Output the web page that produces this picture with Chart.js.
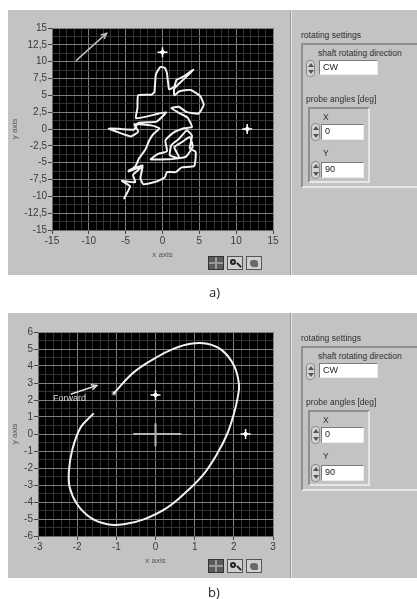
<!DOCTYPE html>
<html>
<head>
<meta charset="utf-8">
<script src="https://cdn.jsdelivr.net/npm/chart.js@4.4.0/dist/chart.umd.min.js"></script>
<style>
  body { margin:0; background:#fff; width:417px; height:599px; position:relative; overflow:hidden;
         font-family:"Liberation Sans", Arial, sans-serif; }
  .panel { position:absolute; left:8px; width:409px; height:265px; background:#c3c3c3; overflow:hidden; }
  .panel canvas { position:absolute; left:0; top:0; }
  .sep { position:absolute; left:282px; top:0; width:1px; height:100%; background:#9a9a9a; border-right:1px solid #e4e4e4; }
  .txt { position:absolute; font-size:8.5px; color:#2e2e2e; white-space:nowrap; line-height:10px; }
  .box { position:absolute; border:2px solid; border-color:#8e8e8e #e6e6e6 #e6e6e6 #8e8e8e; }
  .field { position:absolute; background:#fff; border:1px solid; border-color:#7c7c7c #eee #eee #7c7c7c;
           font-size:9px; color:#222; line-height:13px; padding-left:3px; box-sizing:border-box; }
  .spin { position:absolute; width:9px; border:1px solid #8a8a8a; border-radius:4px; background:#d4d4d4; box-sizing:border-box; }
  .spin:before, .spin:after { content:""; position:absolute; left:1px; border-left:3px solid transparent; border-right:3px solid transparent; }
  .spin:before { top:2px; border-bottom:4px solid #555; }
  .spin:after { bottom:2px; border-top:4px solid #555; }
  .icon { position:absolute; top:246px; width:16px; height:14px; box-sizing:border-box; }
  .i1 { left:200px; background:#5a5a5a; border:1px solid #333; }
  .i1:before { content:""; position:absolute; left:6px; top:0; width:2px; height:12px; background:#9a9a9a; }
  .i1:after { content:""; position:absolute; left:0; top:5px; width:14px; height:2px; background:#9a9a9a; }
  .i2 { left:219px; background:#cfcfcf; border:1px solid #555; }
  .i2:before { content:""; position:absolute; left:2px; top:2px; width:6px; height:6px; border:2px solid #222; border-radius:50%; box-sizing:border-box; }
  .i2:after { content:""; position:absolute; left:8px; top:7px; width:6px; height:2px; background:#222; transform:rotate(45deg); }
  .i3 { left:238px; background:#cfcfcf; border:1px solid #555; }
  .i3:before { content:""; position:absolute; left:3px; top:3px; width:8px; height:7px; background:#6a6a6a; border-radius:3px 3px 1px 4px; }
  .cap { position:absolute; font-family:"Open Sans", sans-serif; font-size:13px; color:#222; }
</style>
</head>
<body>
<script>
// panel a) shaft trajectory
const trailX = [-5.2,-4.4,-5.5,-3.7,-4.0,-2.8,-4.6,-2.7,-3.0,-2.6,-0.8,0.3,0.6,1.8,2.6,4.3,4.5,3.7,4.0,3.3,
  2.2,1.2,1.0,2.3,1.6,2.7,3.7,4.1,3.2,1.8,0.8,-1.6,-0.6,0.6,0.4,1.4,2.9,4.0,3.4,2.4,
  1.2,2.2,3.3,4.9,5.6,5.1,3.8,2.3,1.6,1.6,2.8,4.2,2.7,1.9,1.6,0.9,0.6,0.3,-0.3,-0.9,
  -1.1,-1.5,-3.3,-3.4,-3.6,-1.2,0.5,-0.8,-3.3,-3.9,-7.3,-4.3,-3.3,-3.8,-1.4,-0.4,-1.2,-1.8,-2.3,-3.2,
  -3.7,-4.6];
const trailY = [-10.3,-8.5,-7.7,-7.9,-6.8,-5.6,-6.3,-5.4,-7.3,-8.2,-7.8,-7.2,-6.4,-6.4,-5.7,-5.5,-3.4,-2.9,-1.0,-0.2,
  -1.5,-2.4,-3.9,-4.3,-2.7,-1.9,-1.2,-2.6,-4.1,-4.4,-4.5,-4.5,-3.7,-3.3,-1.7,-0.6,0.1,0.3,1.7,2.3,
  3.1,3.3,2.5,2.3,3.6,4.9,5.8,5.6,5.0,6.0,7.3,8.8,7.7,7.3,6.3,5.9,8.3,9.1,9.2,8.1,
  5.5,5.1,5.0,3.1,1.6,2.1,2.5,1.1,0.9,-0.1,0.1,-1.1,-0.4,0.7,0.5,0.1,-0.7,-1.7,-3.0,-4.4,
  -5.6,-6.2];
const probeAX = [0, 11.5];
const probeAY = [11.4, 0];
const arrowAX = [-11.7, -7.6];
const arrowAY = [10.2, 14.2];
const ticksA = { xMin:-15, xMax:15, xStep:1, xMajor:5, yMin:-15, yMax:15, yStep:1.25, yMajor:2.5 };

// panel b) orbit
const orbitX = [-1.06,-0.55,0.04,0.47,0.89,1.32,1.70,2.00,2.13,2.10,2.00,1.83,1.57,1.23,0.81,0.30,
  -0.30,-0.81,-1.23,-1.66,-2.00,-2.19,-2.21,-2.13,-1.91,-1.59];
const orbitY = [2.40,3.64,4.53,5.02,5.31,5.31,4.92,4.04,2.95,2.17,1.18,0.00,-1.18,-2.36,-3.35,-4.33,
  -5.02,-5.31,-5.31,-4.92,-4.13,-3.15,-2.17,-0.98,0.39,1.18];
const probeBX = [0, 2.3];
const probeBY = [2.3, 0];
const crossHX = [-0.55, 0.64], crossHY = [0, 0];
const crossVX = [0, 0], crossVY = [0.59, -0.69];
const arrowBX = [-2.15, -1.5];
const arrowBY = [2.35, 2.85];
const forwardLabel = { text:'Forward', x:-2.62, y:2.1 };
const ticksB = { xMin:-3, xMax:3, xStep:0.2, xMajor:1, yMin:-6, yMax:6, yStep:0.5, yMajor:1 };

const pts = (xs, ys) => xs.map((x, i) => ({ x, y: ys[i] }));
const fmt = v => String(v).replace('.', ',');
const isMajor = (v, m) => Math.abs(v / m - Math.round(v / m)) < 1e-6;

const plotBg = {
  id: 'plotBg',
  beforeDraw(chart) {
    const { ctx, chartArea: a } = chart;
    ctx.save();
    ctx.fillStyle = '#000';
    ctx.fillRect(a.left, a.top, a.width, a.height);
    ctx.restore();
  }
};

// arrow heads + free text on the plot
const extras = {
  id: 'extras',
  afterDatasetsDraw(chart, args, opts) {
    const ctx = chart.ctx;
    chart.data.datasets.forEach((ds, i) => {
      if (!ds.arrow) return;
      const el = chart.getDatasetMeta(i).data;
      const p1 = el[el.length - 2], p2 = el[el.length - 1];
      const ang = Math.atan2(p2.y - p1.y, p2.x - p1.x);
      ctx.save();
      ctx.strokeStyle = ds.borderColor;
      ctx.lineWidth = ds.borderWidth;
      ctx.beginPath();
      ctx.moveTo(p2.x - 6 * Math.cos(ang - 0.45), p2.y - 6 * Math.sin(ang - 0.45));
      ctx.lineTo(p2.x, p2.y);
      ctx.lineTo(p2.x - 6 * Math.cos(ang + 0.45), p2.y - 6 * Math.sin(ang + 0.45));
      ctx.stroke();
      ctx.restore();
    });
    if (opts.label) {
      const s = chart.scales;
      ctx.save();
      ctx.fillStyle = '#d8d8d8';
      ctx.font = '9px "Liberation Sans", Arial';
      ctx.textBaseline = 'middle';
      ctx.fillText(opts.label.text, s.x.getPixelForValue(opts.label.x), s.y.getPixelForValue(opts.label.y));
      ctx.restore();
    }
  }
};

function axis(min, max, step, major, title, titlePad, fitFn) {
  return {
    type: 'linear', min, max,
    ticks: {
      stepSize: step, autoSkip: false, maxRotation: 0, padding: 1,
      color: '#3a3a3a', font: { size: 10, family: '"Liberation Sans", Arial' },
      callback: v => isMajor(v, major) ? fmt(v) : ''
    },
    grid: {
      color: c => isMajor(c.tick.value, major) ? '#7e7e7e' : '#333333',
      tickColor: c => isMajor(c.tick.value, major) ? '#444' : 'rgba(0,0,0,0)',
      tickLength: 4, lineWidth: 1
    },
    border: { color: '#6a6a6a' },
    title: { display: true, text: title, color: '#555', font: { size: 8, family: '"Liberation Sans", Arial' }, padding: titlePad },
    afterFit: fitFn
  };
}

function makePanel(top, cfg) {
  const panel = document.createElement('div');
  panel.className = 'panel';
  panel.style.top = top + 'px';
  panel.innerHTML = `
    <canvas width="283" height="265"></canvas>
    <div class="sep"></div>
    <div class="txt" style="left:293px;top:20px">rotating settings</div>
    <div class="box" style="left:293px;top:33px;width:130px;height:141px"></div>
    <div class="txt" style="left:310px;top:38px">shaft rotating direction</div>
    <div class="spin" style="left:298px;top:50px;height:17px"></div>
    <div class="field" style="left:311px;top:50px;width:59px;height:15px">CW</div>
    <div class="txt" style="left:298px;top:84px">probe angles [deg]</div>
    <div class="box" style="left:300px;top:97px;width:58px;height:72px"></div>
    <div class="txt" style="left:315px;top:102px">X</div>
    <div class="spin" style="left:303px;top:113px;height:18px"></div>
    <div class="field" style="left:313px;top:114px;width:43px;height:16px">0</div>
    <div class="txt" style="left:315px;top:138px">Y</div>
    <div class="spin" style="left:303px;top:151px;height:18px"></div>
    <div class="field" style="left:313px;top:152px;width:43px;height:16px">90</div>
    <div class="icon i1"></div><div class="icon i2"></div><div class="icon i3"></div>`;
  document.body.appendChild(panel);
  const t = cfg.ticks;
  new Chart(panel.querySelector('canvas'), {
    type: 'scatter',
    data: { datasets: cfg.datasets },
    options: {
      responsive: false, animation: false,
      layout: { padding: { top: cfg.padTop, right: 18, left: 0, bottom: 0 } },
      plugins: { legend: { display: false }, tooltip: { enabled: false }, extras: { label: cfg.label } },
      scales: {
        x: axis(t.xMin, t.xMax, t.xStep, t.xMajor, 'x axis', { top: 0, bottom: cfg.xTitleBottom },
                s => { s.height = cfg.xHeight; }),
        y: axis(t.yMin, t.yMax, t.yStep, t.yMajor, 'y axis', { top: 2, bottom: 0 },
                s => { s.width = cfg.yWidth; })
      }
    },
    plugins: [plotBg, extras]
  });
}

const line = (data, color, width, extra) => Object.assign({
  data, showLine: true, borderColor: color, borderWidth: width, pointRadius: 0,
  borderJoinStyle: 'round', borderCapStyle: 'round', fill: false
}, extra || {});
const probes = (data) => [
  { data, pointStyle: 'cross', pointRadius: 5, borderColor: '#fff', borderWidth: 1.5, backgroundColor: '#fff' },
  { data, pointStyle: 'rectRot', pointRadius: 2.5, borderColor: '#fff', borderWidth: 1, backgroundColor: '#fff' }
];

makePanel(10, {
  ticks: ticksA, padTop: 18, xHeight: 45, yWidth: 44, xTitleBottom: 15,
  datasets: [
    line(pts(trailX, trailY), '#f2f2f2', 2, { tension: 0.15 }),
    line(pts(arrowAX, arrowAY), '#bdbdbd', 1.5, { arrow: true }),
    ...probes(pts(probeAX, probeAY))
  ]
});

makePanel(313, {
  ticks: ticksB, padTop: 19, xHeight: 42, yWidth: 30, xTitleBottom: 12, label: forwardLabel,
  datasets: [
    line(pts(orbitX, orbitY), '#f2f2f2', 2, { tension: 0.4 }),
    line(pts(crossHX, crossHY), '#b4b4b4', 2),
    line(pts(crossVX, crossVY), '#b4b4b4', 2),
    { data: pts([orbitX[0]], [orbitY[0]]), pointStyle: 'rect', pointRadius: 2.5, backgroundColor: '#777', borderColor: '#777' },
    line(pts(arrowBX, arrowBY), '#e0e0e0', 1.5, { arrow: true }),
    ...probes(pts(probeBX, probeBY))
  ]
});

const capA = document.createElement('div');
capA.className = 'cap'; capA.style.left = '209px'; capA.style.top = '283px'; capA.textContent = 'a)';
const capB = document.createElement('div');
capB.className = 'cap'; capB.style.left = '208px'; capB.style.top = '583px'; capB.textContent = 'b)';
document.body.appendChild(capA); document.body.appendChild(capB);
</script>
</body>
</html>
